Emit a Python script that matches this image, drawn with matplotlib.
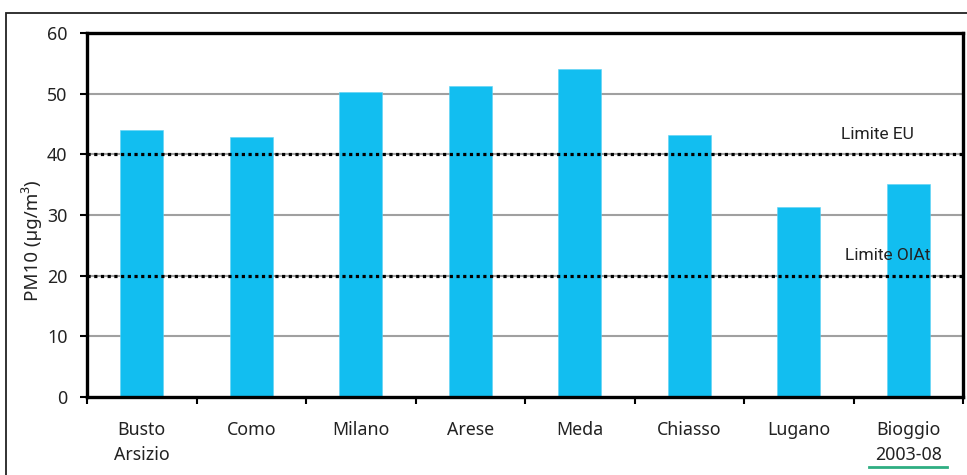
import matplotlib
matplotlib.use("Agg")
import matplotlib.pyplot as plt
from matplotlib.patches import Rectangle
from matplotlib.lines import Line2D

plt.rcParams['font.family'] = ['Noto Sans', 'DejaVu Sans']

# Mean PM10 concentration per station
stations = ["Busto\nArsizio", "Como", "Milano", "Arese", "Meda", "Chiasso", "Lugano", "Bioggio\n2003-08"]
pm10 = [44.0, 42.9, 50.2, 51.2, 54.0, 43.2, 31.3, 35.1]

# Regulatory limits
limit_values = [40, 20]
limit_names = ["Limite EU", "Limite OIAt"]

y_ticks = [0, 10, 20, 30, 40, 50, 60]

fig = plt.figure(figsize=(9.67, 4.75), dpi=100)
ax = fig.add_axes([0.09, 0.1642, 0.9059, 0.7663])

# Outer frame around the chart area
frame = Rectangle((0.0062, -0.05), 1.2, 1.0226, transform=fig.transFigure,
                  fill=False, edgecolor='#222222', linewidth=1.3, clip_on=False)
fig.patches.append(frame)

x = list(range(len(stations)))
ax.bar(x, pm10, width=0.39, color='#12BEF0', edgecolor='#5fd3f5', linewidth=0.4, zorder=2)

ax.set_xlim(-0.5, len(stations) - 0.5)
ax.set_ylim(0, 60)
ax.set_yticks(y_ticks)
ax.set_yticklabels([str(v) for v in y_ticks], fontsize=12.8, color='#222222')

# Light horizontal grid
for v in y_ticks[1:-1]:
    ax.axhline(v, color='#a0a0a0', linewidth=1.5, zorder=1)

# Dotted limit lines with their labels
label_pos = [(6.72, 43.3), (6.81, 23.3)]
for val, name, (lx, ly) in zip(limit_values, limit_names, label_pos):
    ax.axhline(val, color='black', linewidth=2.3, linestyle=(0, (1, 1.1)), zorder=3)
    ax.text(lx, ly, name, ha='center', va='center', fontsize=12.5,
            family=['Roboto', 'DejaVu Sans'], color='#222222', zorder=4)

# Category boundaries as x ticks, names centred between them
ax.set_xticks([i - 0.5 for i in range(len(stations) + 1)])
ax.set_xticklabels([])
ax.tick_params(axis='x', length=5, width=1.5, direction='out', color='black')
ax.tick_params(axis='y', length=5, width=1.5, direction='out', color='black', pad=9)
for i, name in enumerate(stations):
    ax.text(i, -4.0, name, ha='center', va='top', fontsize=12.8,
            color='#222222', linespacing=1.45)

# Underline beneath the Bioggio period
fig.add_artist(Line2D([869 / 967, 947 / 967], [1 - 467 / 475, 1 - 467 / 475],
                      color='#2eae82', linewidth=2.0))

for side in ax.spines.values():
    side.set_linewidth(2.4)
    side.set_color('black')

ax.set_ylabel("PM10 (µg/m³)", fontsize=13.5, color='#222222')
ax.yaxis.set_label_coords(-0.051, 0.43)

fig.savefig("out.png", dpi=100)
